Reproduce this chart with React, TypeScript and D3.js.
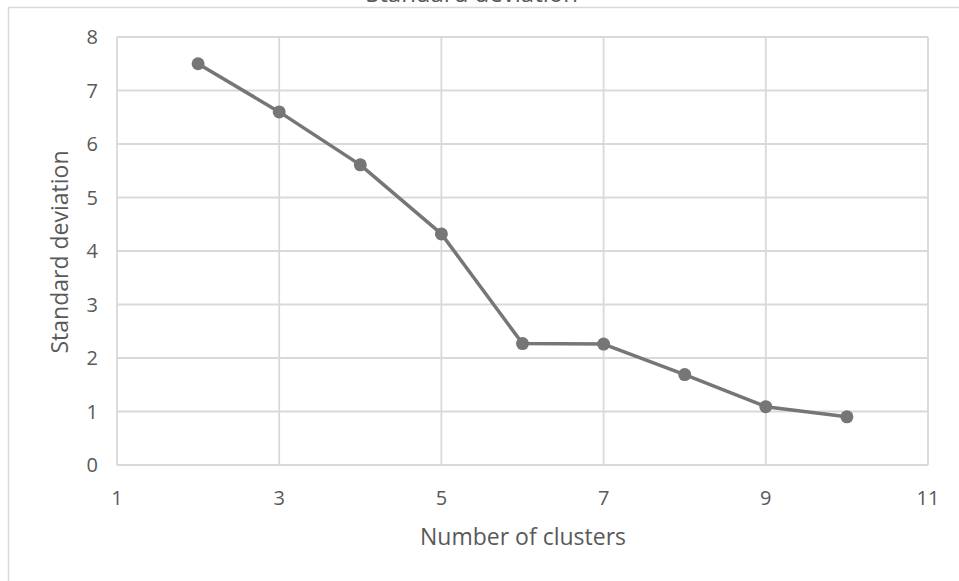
import React from "react";
import * as d3 from "d3";

const clusters = [2, 3, 4, 5, 6, 7, 8, 9, 10];
const stdDev = [7.5, 6.6, 5.61, 4.32, 2.27, 2.26, 1.69, 1.09, 0.9];
const xTicks = [1, 3, 5, 7, 9, 11];
const yTicks = [0, 1, 2, 3, 4, 5, 6, 7, 8];
const chartTitle = "Standard deviation";
const xTitle = "Number of clusters";
const yTitle = "Standard deviation";

export default function App() {
  const W = 959, H = 581;
  const left = 117, right = 928, top = 37, bottom = 465;
  const x = d3.scaleLinear().domain([1, 11]).range([left, right]);
  const y = d3.scaleLinear().domain([0, 8]).range([bottom, top]);
  const line = d3.line<number>().x((_, i) => x(clusters[i])).y((d) => y(d));
  const font = "'Open Sans', 'Liberation Sans', sans-serif";
  const grid = "#d9d9d9";
  const txt = "#595959";
  return (
    <svg width={W} height={H} style={{ position: "absolute", left: 0, top: 0, background: "#fff" }} fontFamily={font}>
      <rect x={8.5} y={7.5} width={1000} height={700} fill="none" stroke={grid} strokeWidth={1.5} />
      <text x={472} y={1.5} textAnchor="middle" fontSize={24} fill={txt}>{chartTitle}</text>
      {yTicks.map((t) => (
        <line key={"gy" + t} x1={left} x2={right} y1={y(t)} y2={y(t)} stroke={grid} strokeWidth={1.8} />
      ))}
      {xTicks.map((t) => (
        <line key={"gx" + t} x1={x(t)} x2={x(t)} y1={top} y2={bottom} stroke={grid} strokeWidth={1.8} />
      ))}
      {yTicks.map((t) => (
        <text key={"ty" + t} x={98} y={y(t)} dy="0.36em" textAnchor="end" fontSize={20} fill={txt}>{t}</text>
      ))}
      {xTicks.map((t) => (
        <text key={"tx" + t} x={x(t)} y={505} textAnchor="middle" fontSize={20} fill={txt}>{t}</text>
      ))}
      <text x={523} y={545} textAnchor="middle" fontSize={23} fill={txt}>{xTitle}</text>
      <text transform={`translate(68,252) rotate(-90)`} textAnchor="middle" fontSize={23} fill={txt}>{yTitle}</text>
      <path d={line(stdDev) || ""} fill="none" stroke="#767676" strokeWidth={3.5} strokeLinejoin="round" />
      {stdDev.map((v, i) => (
        <circle key={"p" + i} cx={x(clusters[i])} cy={y(v)} r={6.5} fill="#767676" />
      ))}
    </svg>
  );
}
